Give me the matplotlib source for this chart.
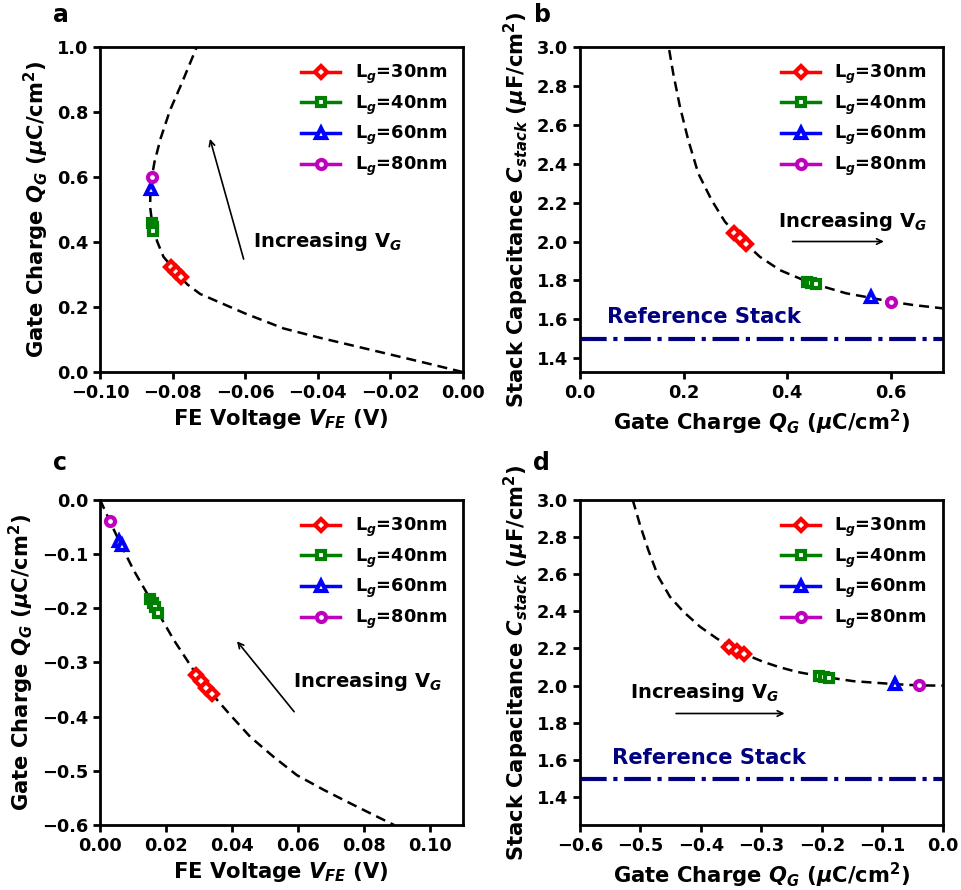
import matplotlib
matplotlib.use("Agg")
import matplotlib.pyplot as plt

plt.rcParams['font.family'] = ['DejaVu Sans']
plt.rcParams['font.weight'] = 'bold'
plt.rcParams['axes.labelweight'] = 'bold'
plt.rcParams['mathtext.fontset'] = 'custom'
plt.rcParams['mathtext.rm'] = 'DejaVu Sans:bold'
plt.rcParams['mathtext.it'] = 'DejaVu Sans:italic:bold'
plt.rcParams['mathtext.bf'] = 'DejaVu Sans:bold'

# ---- panel a : Q_G vs V_FE (positive side) ----
a_curve_v = [0.0, -0.0099, -0.02, -0.04, -0.0494, -0.06, -0.0724, -0.076, -0.079, -0.0825,
             -0.0842, -0.0855, -0.0862, -0.0861, -0.0857, -0.0850, -0.0833, -0.0807, -0.0775, -0.0733]
a_curve_q = [0.0, 0.027, 0.054, 0.107, 0.134, 0.180, 0.240, 0.270, 0.308, 0.354,
             0.400, 0.447, 0.508, 0.559, 0.600, 0.645, 0.718, 0.805, 0.887, 1.0]
a_v = {30: [-0.0805, -0.0790, -0.0776], 40: [-0.0857, -0.0855, -0.0853], 60: [-0.0860], 80: [-0.0857]}
a_q = {30: [0.324, 0.308, 0.292], 40: [0.459, 0.447, 0.434], 60: [0.562], 80: [0.600]}

# ---- panel b : C_stack vs Q_G (positive side) ----
b_curve_q = [0.1723, 0.180, 0.193, 0.209, 0.2283, 0.254, 0.2797, 0.3087, 0.347, 0.386,
             0.4386, 0.4547, 0.514, 0.561, 0.6006, 0.643, 0.700]
b_curve_c = [2.983, 2.863, 2.692, 2.521, 2.350, 2.213, 2.102, 2.017, 1.922, 1.853,
             1.794, 1.780, 1.734, 1.711, 1.691, 1.674, 1.657]
b_q = {30: [0.2977, 0.3087, 0.3203], 40: [0.4386, 0.445, 0.4547], 60: [0.561], 80: [0.6006]}
b_c = {30: [2.045, 2.017, 1.987], 40: [1.794, 1.789, 1.780], 60: [1.714], 80: [1.691]}

# ---- panel c : Q_G vs V_FE (negative side) ----
c_curve_v = [0.0, 0.0030, 0.0061, 0.0101, 0.0160, 0.0223, 0.0306, 0.0395, 0.0455, 0.0526,
             0.0597, 0.0678, 0.0759, 0.0830, 0.0892]
c_curve_q = [0.0, -0.040, -0.080, -0.129, -0.191, -0.258, -0.335, -0.397, -0.437, -0.474,
             -0.508, -0.535, -0.560, -0.5815, -0.600]
c_v = {30: [0.0291, 0.0306, 0.0321, 0.0339], 40: [0.0152, 0.0160, 0.0168, 0.0175],
       60: [0.0059, 0.0066], 80: [0.0030]}
c_q = {30: [-0.323, -0.335, -0.348, -0.358], 40: [-0.183, -0.191, -0.198, -0.209],
       60: [-0.077, -0.083], 80: [-0.040]}

# ---- panel d : C_stack vs Q_G (negative side) ----
d_curve_q = [-0.5128, -0.5007, -0.487, -0.4704, -0.4511, -0.429, -0.4014, -0.3738, -0.3407,
             -0.2967, -0.2718, -0.2415, -0.1962, -0.1477, -0.0793, -0.0391, 0.0]
d_curve_c = [3.0, 2.865, 2.730, 2.586, 2.478, 2.398, 2.317, 2.254, 2.187,
             2.128, 2.101, 2.074, 2.047, 2.024, 2.008, 2.001, 2.0]
d_q = {30: [-0.3529, -0.3407, -0.3286], 40: [-0.204, -0.1962, -0.1885], 60: [-0.0793], 80: [-0.0391]}
d_c = {30: [2.209, 2.187, 2.168], 40: [2.051, 2.047, 2.043], 60: [2.010], 80: [2.001]}

ref_stack = 1.5
lengths = [30, 40, 60, 80]
colors = {30: 'r', 40: 'g', 60: 'b', 80: 'm'}
markers = {30: 'D', 40: 's', 60: '^', 80: 'o'}
msizes = {30: 6, 40: 6, 60: 7, 80: 6.5}

fig = plt.figure(figsize=(9.61, 8.9), dpi=100)
ax_a = fig.add_axes([0.1041, 0.582, 0.3774, 0.3655])
ax_b = fig.add_axes([0.6035, 0.582, 0.3774, 0.3655])
ax_c = fig.add_axes([0.1041, 0.073, 0.3774, 0.3655])
ax_d = fig.add_axes([0.6035, 0.073, 0.3774, 0.3655])

q_label = r'Gate Charge $Q_G$ ($\mu$C/cm$^2$)'
v_label = r'FE Voltage $V_{FE}$ (V)'
c_label = r'Stack Capacitance $C_{stack}$ ($\mu$F/cm$^2$)'
inc_text = r'Increasing V$_G$'
lab_fs = 15.2


def draw_series(ax, xs, ys):
	for L in lengths:
		ax.plot(xs[L], ys[L], '-', color=colors[L], marker=markers[L], markersize=msizes[L],
		        markerfacecolor='w', markeredgewidth=3, linewidth=2.5,
		        label=r'L$_g$=%dnm' % L, zorder=3)
	ax.legend(loc='upper right', frameon=False, fontsize=12.8, handlelength=2.2,
	          handletextpad=0.8, labelspacing=0.42)


def style(ax):
	for s in ax.spines.values():
		s.set_linewidth(2)
	ax.tick_params(width=2, length=5, labelsize=12.8)
	for t in ax.get_xticklabels() + ax.get_yticklabels():
		t.set_fontweight('bold')


# a
ax_a.plot(a_curve_v, a_curve_q, 'k--', linewidth=1.8, dashes=(4, 2.4))
draw_series(ax_a, a_v, a_q)
ax_a.set_xlim(-0.10, 0.0)
ax_a.set_ylim(0.0, 1.0)
ax_a.set_xticks([-0.10, -0.08, -0.06, -0.04, -0.02, 0.00])
ax_a.set_xlabel(v_label, fontsize=lab_fs)
ax_a.set_ylabel(q_label, fontsize=lab_fs)
ax_a.annotate('', xy=(-0.0699, 0.725), xytext=(-0.0602, 0.339),
              arrowprops=dict(arrowstyle='->', color='k', lw=1.2))
ax_a.text(-0.0577, 0.40, inc_text, fontsize=14, fontweight='bold', va='center')
style(ax_a)

# b
ax_b.plot(b_curve_q, b_curve_c, 'k--', linewidth=1.8, dashes=(4, 2.4))
ax_b.axhline(ref_stack, color='navy', linestyle='-.', linewidth=3)
draw_series(ax_b, b_q, b_c)
ax_b.set_xlim(0.0, 0.7)
ax_b.set_ylim(1.33, 3.0)
ax_b.set_xticks([0.0, 0.2, 0.4, 0.6])
ax_b.set_yticks([1.4, 1.6, 1.8, 2.0, 2.2, 2.4, 2.6, 2.8, 3.0])
ax_b.set_xlabel(q_label, fontsize=lab_fs)
ax_b.set_ylabel(c_label, fontsize=lab_fs)
ax_b.annotate('', xy=(0.592, 2.0), xytext=(0.405, 2.0),
              arrowprops=dict(arrowstyle='->', color='k', lw=1.2))
ax_b.text(0.383, 2.105, inc_text, fontsize=14, fontweight='bold', va='center')
ax_b.text(0.053, 1.61, 'Reference Stack', fontsize=15.2, fontweight='bold', color='navy', va='center')
style(ax_b)

# c
ax_c.plot(c_curve_v, c_curve_q, 'k--', linewidth=1.8, dashes=(4, 2.4))
draw_series(ax_c, c_v, c_q)
ax_c.set_xlim(0.0, 0.11)
ax_c.set_ylim(-0.6, 0.0)
ax_c.set_xticks([0.00, 0.02, 0.04, 0.06, 0.08, 0.10])
ax_c.set_xlabel(v_label, fontsize=lab_fs)
ax_c.set_ylabel(q_label, fontsize=lab_fs)
ax_c.annotate('', xy=(0.0410, -0.257), xytext=(0.0594, -0.395),
              arrowprops=dict(arrowstyle='->', color='k', lw=1.2))
ax_c.text(0.0584, -0.335, inc_text, fontsize=14, fontweight='bold', va='center')
style(ax_c)

# d
ax_d.plot(d_curve_q, d_curve_c, 'k--', linewidth=1.8, dashes=(4, 2.4))
ax_d.axhline(ref_stack, color='navy', linestyle='-.', linewidth=3)
draw_series(ax_d, d_q, d_c)
ax_d.set_xlim(-0.6, 0.0)
ax_d.set_ylim(1.25, 3.0)
ax_d.set_yticks([1.4, 1.6, 1.8, 2.0, 2.2, 2.4, 2.6, 2.8, 3.0])
ax_d.set_xlabel(q_label, fontsize=lab_fs)
ax_d.set_ylabel(c_label, fontsize=lab_fs)
ax_d.annotate('', xy=(-0.2569, 1.85), xytext=(-0.4456, 1.85),
              arrowprops=dict(arrowstyle='->', color='k', lw=1.2))
ax_d.text(-0.517, 1.963, inc_text, fontsize=14, fontweight='bold', va='center')
ax_d.text(-0.5476, 1.612, 'Reference Stack', fontsize=15.2, fontweight='bold', color='navy', va='center')
style(ax_d)

# panel letters
fig.text(53 / 961.0, 1 - 22 / 890.0, 'a', fontsize=17, fontweight='bold')
fig.text(534 / 961.0, 1 - 22 / 890.0, 'b', fontsize=17, fontweight='bold')
fig.text(53 / 961.0, 1 - 470 / 890.0, 'c', fontsize=17, fontweight='bold')
fig.text(533 / 961.0, 1 - 470 / 890.0, 'd', fontsize=17, fontweight='bold')

plt.savefig('out.png', dpi=100)
